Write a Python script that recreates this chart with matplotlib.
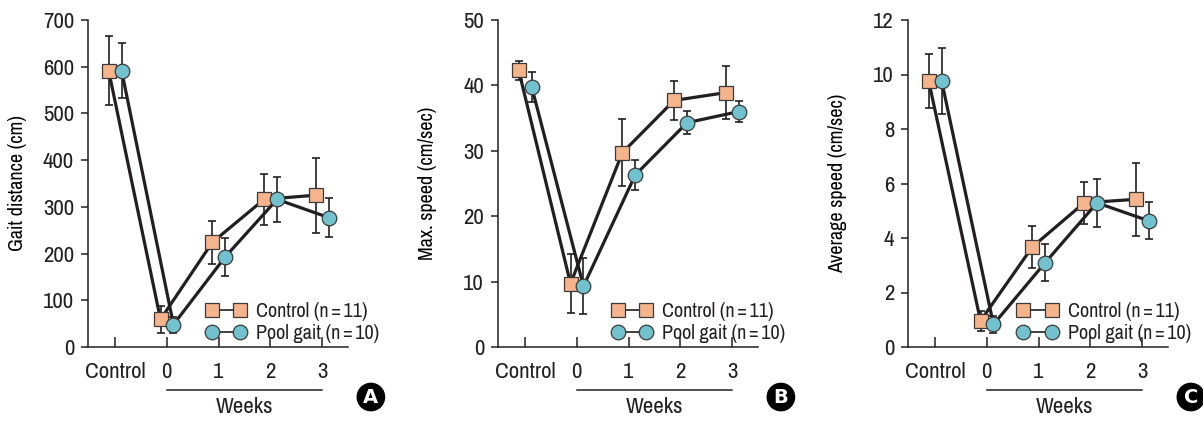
import matplotlib
matplotlib.use("Agg")
import matplotlib.pyplot as plt
from matplotlib.lines import Line2D

plt.rcParams['font.family'] = ['Archivo Narrow', 'DejaVu Sans']
plt.rcParams['text.color'] = '#231f20'

# x categories: baseline control, then weeks after injury
x_labels = ['Control', '0', '1', '2', '3']
legend_labels = ['Control (n\u2009=\u200911)', 'Pool gait (n\u2009=\u200910)']

# panel A: gait distance
dist_ctrl = [591, 59, 224, 316, 325]
dist_ctrl_sd = [74, 28, 46, 55, 80]
dist_pool = [591, 48, 193, 316, 277]
dist_pool_sd = [59, 17, 40, 48, 41]

# panel B: max speed
max_ctrl = [42.3, 9.7, 29.7, 37.7, 38.9]
max_ctrl_sd = [1.5, 4.5, 5.1, 3.0, 4.0]
max_pool = [39.8, 9.3, 26.3, 34.3, 36.0]
max_pool_sd = [2.3, 4.3, 2.3, 1.8, 1.6]

# panel C: average speed
avg_ctrl = [9.76, 0.96, 3.67, 5.29, 5.42]
avg_ctrl_sd = [1.0, 0.37, 0.77, 0.78, 1.35]
avg_pool = [9.76, 0.83, 3.10, 5.29, 4.63]
avg_pool_sd = [1.2, 0.30, 0.68, 0.88, 0.68]

ORANGE = '#f5b48b'
TEAL = '#72c1cf'
INK = '#231f20'

W, H = 1203, 421
fig = plt.figure(figsize=(W / 100, H / 100), dpi=100)


def draw_panel(left, ctrl, ctrl_sd, pool, pool_sd, ymax, ystep, ylabel,
               letter, legend_x):
    ax = fig.add_axes([left / W, (H - 347) / H, 260 / W, 327 / H])
    xs = range(len(x_labels))
    xc = [x - 0.12 for x in xs]
    xp = [x + 0.13 for x in xs]

    for x, y, sd, marker, color, z in [(xc, ctrl, ctrl_sd, 's', ORANGE, 3),
                                        (xp, pool, pool_sd, 'o', TEAL, 4)]:
        ax.errorbar(x, y, yerr=sd, fmt='none', ecolor=INK, elinewidth=1.2,
                    capsize=2.8, capthick=1.2, zorder=z - 1)
        ax.plot(x, y, color=INK, lw=2.3, marker=marker, markersize=10.5,
                markerfacecolor=color, markeredgecolor='#3a3a3a',
                markeredgewidth=0.9, zorder=z)

    ax.set_xlim(-0.52, 4.5)
    ax.set_ylim(0, ymax)
    ax.set_yticks([v * ystep for v in range(int(ymax / ystep) + 1)])
    ax.set_xticks(list(xs))
    ax.set_xticklabels(x_labels)
    for s in ['top', 'right']:
        ax.spines[s].set_visible(False)
    for s in ['left', 'bottom']:
        ax.spines[s].set_linewidth(1.1)
        ax.spines[s].set_color(INK)
    ax.tick_params(axis='y', direction='out', length=5, width=1.1,
                   pad=5, labelsize=16.5, colors=INK)
    ax.tick_params(axis='x', direction='in', length=7, width=1.1,
                   pad=11, labelsize=16.5, colors=INK)
    ax.set_ylabel(ylabel, fontsize=14.5)
    ax.yaxis.set_label_coords(-0.235, 0.5)

    # bracket under the week ticks
    tr = ax.get_xaxis_transform()
    ax.plot([1, 4], [-0.131, -0.131], transform=tr, color=INK, lw=1.1,
            clip_on=False)
    ax.text(2.5, -0.185, 'Weeks', transform=tr, ha='center', va='center',
            fontsize=16.5)

    ax.text(1.088, -0.153, letter, transform=ax.transAxes, ha='center',
            va='center', fontsize=14, fontweight='bold', color='white',
            family='DejaVu Sans',
            bbox=dict(boxstyle='circle,pad=0.25', fc='black', ec='none'))

    handles = [
        Line2D([], [], color=INK, lw=1.2, marker='s', markersize=10.5,
               markerfacecolor=ORANGE, markeredgecolor='#3a3a3a',
               markeredgewidth=0.9),
        Line2D([], [], color=INK, lw=1.2, marker='o', markersize=10.5,
               markerfacecolor=TEAL, markeredgecolor='#3a3a3a',
               markeredgewidth=0.9),
    ]
    ax.legend(handles, legend_labels,
              numpoints=2, handlelength=2.0, handletextpad=0.5,
              labelspacing=0.12, frameon=False, fontsize=14.5,
              loc='lower left', bbox_to_anchor=(legend_x, -0.012),
              borderaxespad=0.0)
    return ax


draw_panel(88, dist_ctrl, dist_ctrl_sd, dist_pool, dist_pool_sd,
           700, 100, 'Gait distance (cm)', 'A', 0.423)
draw_panel(498, max_ctrl, max_ctrl_sd, max_pool, max_pool_sd,
           50, 10, 'Max. speed (cm/sec)', 'B', 0.407)
draw_panel(908, avg_ctrl, avg_ctrl_sd, avg_pool, avg_pool_sd,
           12, 2, 'Average speed (cm/sec)', 'C', 0.39)

fig.savefig('out.png', dpi=100)
